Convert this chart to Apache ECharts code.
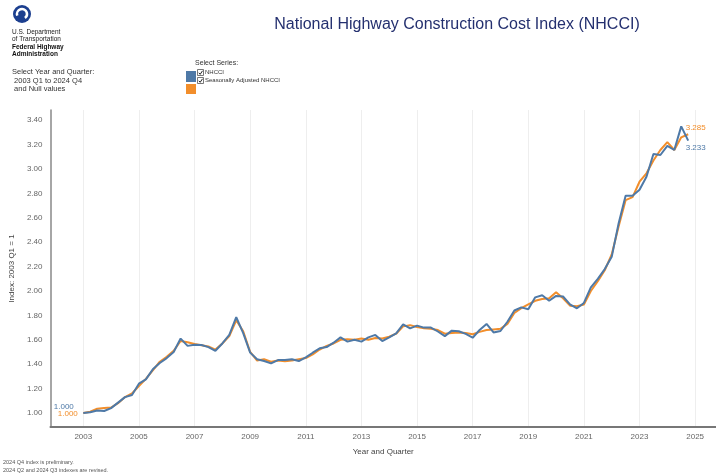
<!DOCTYPE html>
<html>
<head>
<meta charset="utf-8">
<script src="https://cdn.jsdelivr.net/npm/echarts@6/dist/echarts.min.js"></script>
<style>html,body{margin:0;padding:0;background:#fff;}#c{width:716px;height:475px;}</style>
</head>
<body>
<div id="c"></div>
<script>
// ---- data ----
const startYear = 2003;
const endYear = 2024;
const nhcci = [
  1.000, 1.006, 1.020, 1.016,
  1.040, 1.085, 1.130, 1.148,
  1.240, 1.276, 1.358, 1.410,
  1.450, 1.500, 1.610, 1.550,
  1.560, 1.557, 1.540, 1.510,
  1.570, 1.640, 1.785, 1.655,
  1.495, 1.440, 1.426, 1.407,
  1.434, 1.434, 1.440, 1.426,
  1.456, 1.494, 1.530, 1.540,
  1.576, 1.620, 1.585, 1.600,
  1.585, 1.620, 1.640, 1.590,
  1.620, 1.653, 1.727, 1.694,
  1.716, 1.700, 1.700, 1.668,
  1.630, 1.675, 1.670, 1.648,
  1.617, 1.680, 1.730, 1.660,
  1.672, 1.748, 1.840, 1.866,
  1.850, 1.948, 1.965, 1.920,
  1.960, 1.955, 1.890, 1.858,
  1.902, 2.030, 2.100, 2.180,
  2.280, 2.555, 2.780, 2.780,
  2.830, 2.937, 3.123, 3.115,
  3.190, 3.156, 3.350, 3.233
];
const nhcciSA = [
  1.000, 1.010, 1.035, 1.040,
  1.045, 1.080, 1.130, 1.160,
  1.220, 1.280, 1.350, 1.420,
  1.460, 1.510, 1.590, 1.580,
  1.565, 1.555, 1.545, 1.520,
  1.570, 1.630, 1.760, 1.670,
  1.500, 1.430, 1.440, 1.420,
  1.430, 1.425, 1.430, 1.440,
  1.450, 1.480, 1.520, 1.550,
  1.570, 1.600, 1.605, 1.600,
  1.610, 1.600, 1.615, 1.610,
  1.625, 1.650, 1.710, 1.720,
  1.705, 1.695, 1.690, 1.680,
  1.650, 1.655, 1.660, 1.655,
  1.645, 1.665, 1.680, 1.685,
  1.690, 1.730, 1.820, 1.860,
  1.890, 1.920, 1.935, 1.940,
  1.990, 1.940, 1.880, 1.875,
  1.890, 2.000, 2.080, 2.170,
  2.300, 2.530, 2.745, 2.770,
  2.896, 2.965, 3.070, 3.156,
  3.220, 3.156, 3.260, 3.285
];
const xTickLabels = [2003, 2005, 2007, 2009, 2011, 2013, 2015, 2017, 2019, 2021, 2023, 2025];
const yTickLabels = [1.00, 1.20, 1.40, 1.60, 1.80, 2.00, 2.20, 2.40, 2.60, 2.80, 3.00, 3.20, 3.40];

// quarter positions (year + fraction)
const quarterPos = [];
for (let y = startYear; y <= endYear; y++) for (let q = 0; q < 4; q++) quarterPos.push(y + q / 4);

const BLUE = '#4E79A7';
const ORANGE = '#F28E2B';
const F = 'Liberation Sans, Arial, sans-serif';

function buildData(vals, labelCfgFirst, labelCfgLast) {
  return vals.map((v, i) => {
    const d = { value: [quarterPos[i], v] };
    if (i === 0) d.label = labelCfgFirst;
    if (i === vals.length - 1) d.label = labelCfgLast;
    return d;
  });
}

const fmt = p => p.value[1].toFixed(3);
const CLEAR = 'rgba(0,0,0,0)';

const chart = echarts.init(document.getElementById('c'), null, { renderer: 'canvas' });
const option = {
  animation: false,
  textStyle: { fontFamily: F },
  title: {
    text: 'National Highway Construction Cost Index (NHCCI)',
    left: 452, top: 12, textAlign: 'center',
    textStyle: { fontSize: 16, fontWeight: 'normal', color: '#24306f', fontFamily: F }
  },
  grid: { left: 45, right: 0, top: 110, bottom: 48, containLabel: false },
  xAxis: {
    type: 'value', min: 2001.82, max: 2025.75,
    name: 'Year and Quarter', nameLocation: 'middle', nameGap: 21,
    nameTextStyle: { fontSize: 8, color: '#444', fontFamily: F },
    axisLine: { show: true, lineStyle: { color: '#777', width: 2 } },
    axisTick: { show: false, customValues: xTickLabels },
    axisLabel: { customValues: xTickLabels, fontSize: 8, color: '#666', margin: 6, formatter: v => String(v) },
    splitLine: { show: true, lineStyle: { color: '#eeeeee', width: 1 } }
  },
  yAxis: {
    type: 'value', min: 0.885, max: 3.484,
    name: 'Index: 2003 Q1 = 1', nameLocation: 'middle', nameGap: 27, nameRotate: 90,
    nameTextStyle: { fontSize: 8, color: '#444', fontFamily: F },
    axisLine: { show: true, lineStyle: { color: '#888', width: 1.5 } },
    axisTick: { show: false, customValues: yTickLabels },
    axisLabel: { customValues: yTickLabels, fontSize: 8, color: '#666', margin: 8, formatter: v => v.toFixed(2) },
    splitLine: { show: false }
  },
  series: [
    {
      name: 'Seasonally Adjusted NHCCI', type: 'line',
      symbol: 'circle', symbolSize: 1, showSymbol: true, showAllSymbol: true,
      lineStyle: { color: ORANGE, width: 2 }, itemStyle: { color: CLEAR, borderWidth: 0 },
      label: { show: false },
      data: buildData(nhcciSA,
        { show: true, position: 'left', distance: 5, offset: [0, 1], color: ORANGE, fontSize: 8, formatter: fmt },
        { show: true, position: 'right', distance: 0, offset: [-3, -6], color: ORANGE, fontSize: 8, formatter: fmt })
    },
    {
      name: 'NHCCI', type: 'line',
      symbol: 'circle', symbolSize: 1, showSymbol: true, showAllSymbol: true,
      lineStyle: { color: BLUE, width: 2 }, itemStyle: { color: CLEAR, borderWidth: 0 },
      label: { show: false },
      data: buildData(nhcci,
        { show: true, position: 'left', distance: 9, offset: [0, -6], color: BLUE, fontSize: 8, formatter: fmt },
        { show: true, position: 'right', distance: 0, offset: [-3, 7], color: BLUE, fontSize: 8, formatter: fmt })
    }
  ],
  graphic: [
    // logo
    { type: 'circle', shape: { cx: 22, cy: 14, r: 9 }, style: { fill: '#1c3f8f' } },
    { type: 'arc', shape: { cx: 22, cy: 14, r: 5, startAngle: Math.PI * 0.9, endAngle: Math.PI * 2.3 }, style: { stroke: '#fff', lineWidth: 2.5, fill: null } },
    { type: 'text', left: 12, top: 28, style: { text: 'U.S. Department\nof Transportation', fontSize: 6.5, lineHeight: 7.5, fill: '#222', fontFamily: F } },
    { type: 'text', left: 12, top: 44, style: { text: 'Federal Highway\nAdministration', fontSize: 6.5, lineHeight: 7, fontWeight: 'bold', fill: '#111', fontFamily: F } },
    { type: 'text', left: 12, top: 68, style: { text: 'Select Year and Quarter:\n 2003 Q1 to 2024 Q4\n and Null values', fontSize: 7.5, lineHeight: 8.5, fill: '#333', fontFamily: F } },
    // series selector
    { type: 'text', left: 195, top: 60, style: { text: 'Select Series:', fontSize: 7, fill: '#333', fontFamily: F } },
    { type: 'rect', shape: { x: 186, y: 71, width: 10, height: 11 }, style: { fill: BLUE } },
    { type: 'rect', shape: { x: 186, y: 84, width: 10, height: 10 }, style: { fill: ORANGE } },
    { type: 'rect', shape: { x: 197.5, y: 69.5, width: 6, height: 6 }, style: { fill: '#fff', stroke: '#555', lineWidth: 0.8 } },
    { type: 'rect', shape: { x: 197.5, y: 77.5, width: 6, height: 6 }, style: { fill: '#fff', stroke: '#555', lineWidth: 0.8 } },
    { type: 'polyline', shape: { points: [[198.8, 72.8], [200.2, 74.3], [202.5, 70.8]] }, style: { stroke: '#222', lineWidth: 1, fill: null } },
    { type: 'polyline', shape: { points: [[198.8, 80.8], [200.2, 82.3], [202.5, 78.8]] }, style: { stroke: '#222', lineWidth: 1, fill: null } },
    { type: 'text', left: 205, top: 69.5, style: { text: 'NHCCI', fontSize: 6, fill: '#333', fontFamily: F } },
    { type: 'text', left: 205, top: 77.5, style: { text: 'Seasonally Adjusted NHCCI', fontSize: 6, fill: '#333', fontFamily: F } },
    // footnotes
    { type: 'text', left: 3, top: 459, style: { text: '2024 Q4 index is preliminary.\n2024 Q2 and 2024 Q3 indexes are revised.', fontSize: 5.5, lineHeight: 7.5, fill: '#555', fontFamily: F } }
  ]
};
chart.setOption(option);
</script>
</body>
</html>
